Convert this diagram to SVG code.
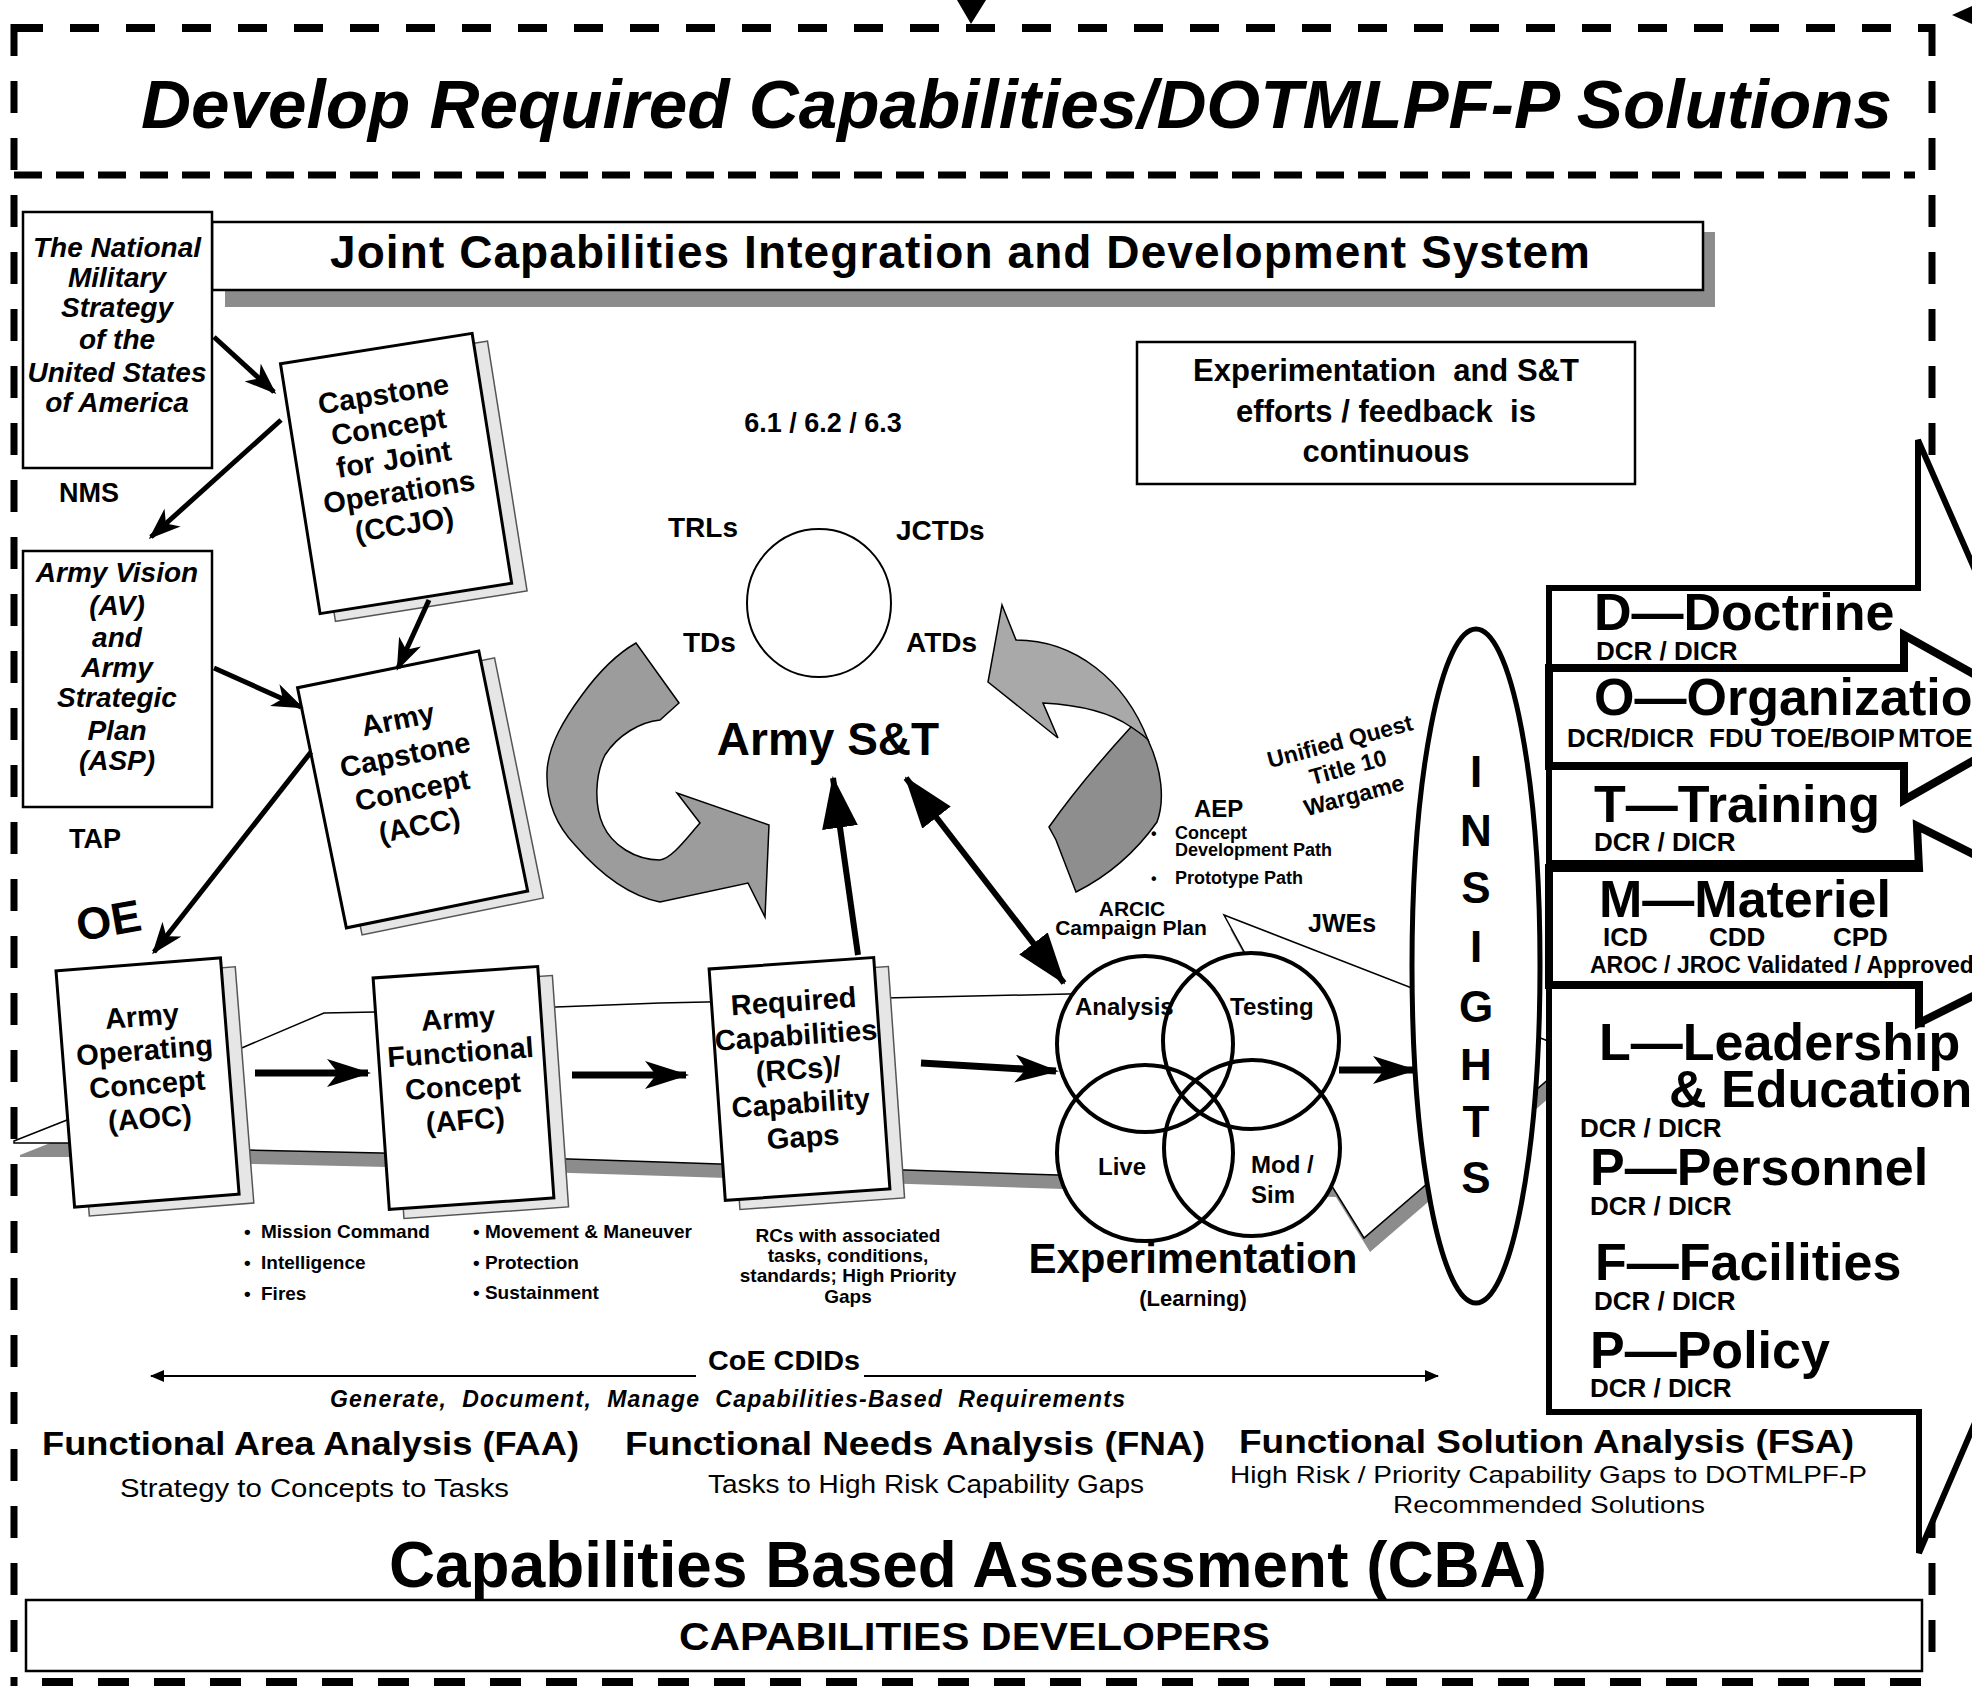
<svg xmlns="http://www.w3.org/2000/svg" width="1972" height="1690" viewBox="0 0 1972 1690">
<defs>
<style>
text { font-family: "Liberation Sans", Arial, Helvetica, sans-serif; fill: #000; }
.b { font-weight: bold; }
.i { font-style: italic; }
.c { text-anchor: middle; }
.box { fill: #fff; stroke: #000; stroke-width: 2.5; }
.bk { fill: #e6e6e6; stroke: #555; stroke-width: 1.5; }
.bf { fill: #fff; stroke: #000; stroke-width: 3; }
.dash { fill: none; stroke: #000; }
.ln { fill: none; stroke: #000; stroke-width: 5; }
.thk { fill: none; stroke: #000; stroke-width: 7; }
.row { fill: #fff; stroke: #000; stroke-width: 8; stroke-linejoin: miter; }
.circ { fill: none; stroke: #000; stroke-width: 4; }
.big { font-size: 52px; font-weight: bold; }
.dcr { font-size: 26px; font-weight: bold; }
.bookt { font-size: 29px; font-weight: bold; text-anchor: middle; }
.bul { font-size: 19px; font-weight: bold; }
</style>
<marker id="st" viewBox="0 0 32 24" refX="29" refY="12" markerWidth="32" markerHeight="24" markerUnits="userSpaceOnUse" orient="auto"><path d="M0,0 L32,12 L0,24 L9,12 Z"/></marker>
<marker id="stL" viewBox="0 0 44 28" refX="41" refY="14" markerWidth="44" markerHeight="28" markerUnits="userSpaceOnUse" orient="auto"><path d="M0,0 L44,14 L0,28 L11,14 Z"/></marker>
<marker id="tri" viewBox="0 0 52 36" refX="50" refY="18" markerWidth="52" markerHeight="36" markerUnits="userSpaceOnUse" orient="auto-start-reverse"><path d="M0,0 L52,18 L0,36 Z"/></marker>
<marker id="sm" viewBox="0 0 14 12" refX="13" refY="6" markerWidth="14" markerHeight="12" markerUnits="userSpaceOnUse" orient="auto-start-reverse"><path d="M0,0 L14,6 L0,12 Z"/></marker>
</defs>
<rect width="1972" height="1690" fill="#fff"/>

<g id="frame">
<line class="dash" x1="14" y1="28" x2="1932" y2="28" stroke-width="8" stroke-dasharray="29 27"/>
<line class="dash" x1="14" y1="175" x2="1915" y2="175" stroke-width="7" stroke-dasharray="28 14"/>
<line class="dash" x1="14" y1="24" x2="14" y2="1686" stroke-width="7" stroke-dasharray="32 25"/>
<line class="dash" x1="1932" y1="24" x2="1932" y2="1667" stroke-width="7" stroke-dasharray="32 25"/>
<line class="dash" x1="42" y1="1682" x2="1922" y2="1682" stroke-width="8" stroke-dasharray="31 25"/>
<path d="M957,0 L986,0 L971,24 Z" fill="#000"/>
<path d="M1952,15 L1972,6 L1972,24 Z" fill="#000"/>
</g>

<g id="title">
<text class="b i" x="141" y="128" font-size="69" textLength="1751" lengthAdjust="spacingAndGlyphs">Develop Required Capabilities/DOTMLPF-P Solutions</text>
</g>

<g id="jcids">
<rect x="225" y="232" width="1490" height="75" fill="#8c8c8c"/>
<rect class="box" x="212" y="222" width="1491" height="68"/>
<text class="b" x="330" y="268" font-size="46" textLength="1260" lengthAdjust="spacing">Joint Capabilities Integration and Development System</text>
</g>

<g id="nms">
<rect class="box" x="23" y="212" width="189" height="256" stroke-width="2"/>
<g class="b i c" font-size="28">
<text x="117" y="257">The National</text>
<text x="117" y="287">Military</text>
<text x="117" y="317">Strategy</text>
<text x="117" y="349">of the</text>
<text x="117" y="382">United States</text>
<text x="117" y="412">of America</text>
</g>
<text class="b" x="59" y="502" font-size="27">NMS</text>
</g>

<g id="army-vision">
<rect class="box" x="23" y="551" width="189" height="256" stroke-width="2"/>
<g class="b i c" font-size="28">
<text x="117" y="582">Army Vision</text>
<text x="117" y="615">(AV)</text>
<text x="117" y="647">and</text>
<text x="117" y="677">Army</text>
<text x="117" y="707">Strategic</text>
<text x="117" y="740">Plan</text>
<text x="117" y="770">(ASP)</text>
</g>
<text class="b" x="69" y="848" font-size="27">TAP</text>
<text class="b" x="76" y="936" font-size="45" transform="rotate(-10 108 920)">OE</text>
</g>

<g id="exp-box">
<rect class="box" x="1137" y="342" width="498" height="142" stroke-width="2"/>
<g class="b c" font-size="31">
<text x="1386" y="381" xml:space="preserve">Experimentation  and S&amp;T</text>
<text x="1386" y="422" xml:space="preserve">efforts / feedback  is</text>
<text x="1386" y="462">continuous</text>
</g>
</g>

<g id="flat-arrow">
<polygon transform="translate(6,14)" fill="#8c8c8c" points="14,1141 67,1120 244,1047 324,1013 375,1012 556,1007 660,1003 1068,994 1265,990 1224,915 1579,1053 1364,1238 1330,1183 1058,1175 660,1162 381,1153 248,1150 67,1143 14,1143"/>
<polygon fill="#fff" stroke="#000" stroke-width="1.5" points="14,1141 67,1120 244,1047 324,1013 375,1012 556,1007 660,1003 1068,994 1265,990 1224,915 1579,1053 1364,1238 1330,1183 1058,1175 660,1162 381,1153 248,1150 67,1143 14,1143"/>
</g>

<g id="cycle-arrows" stroke="#000" stroke-width="1.5">
<path fill="#9c9c9c" d="M636,643 C615,655 598,673 582,695 C565,718 548,745 547,772 C546,800 556,825 575,845 C595,868 625,895 660,902 L748,883 L765,917 L769,825 L677,793 L700,823 C685,840 672,858 660,860 C635,860 612,845 603,825 C594,805 595,775 605,755 C618,735 640,722 660,720 L679,703 Z"/>
<path fill="#a9a9a9" d="M1002,605 L1016,640 C1075,640 1125,680 1148,740 L1131,727 C1110,712 1080,705 1043,703 L1058,738 L988,682 Z"/>
<path fill="#8e8e8e" d="M1131,727 C1140,733 1146,737 1148,740 C1162,770 1165,800 1157,822 C1130,860 1100,880 1076,892 L1056,840 L1049,827 C1075,790 1110,750 1131,727 Z"/>
</g>

<g id="army-st">
<ellipse cx="819" cy="603" rx="72" ry="74" fill="none" stroke="#000" stroke-width="2"/>
<text class="b c" x="823" y="432" font-size="27">6.1 / 6.2 / 6.3</text>
<text class="b" x="668" y="537" font-size="28">TRLs</text>
<text class="b" x="896" y="540" font-size="28">JCTDs</text>
<text class="b" x="683" y="652" font-size="28">TDs</text>
<text class="b" x="906" y="652" font-size="28">ATDs</text>
<text class="b c" x="828" y="755" font-size="46">Army S&amp;T</text>
</g>

<g id="book-ccjo" transform="translate(396,473) rotate(-9)">
<rect class="bk" x="-83" y="-116" width="194" height="253"/>
<rect class="bf" x="-97" y="-126" width="194" height="253"/>
<text class="bookt" y="-70">Capstone</text>
<text class="bookt" y="-37">Concept</text>
<text class="bookt" y="-4">for Joint</text>
<text class="bookt" y="29">Operations</text>
<text class="bookt" y="62">(CCJO)</text>
</g>

<g id="book-acc" transform="translate(412,789) rotate(-11.5)">
<rect class="bk" x="-78" y="-112" width="185" height="245"/>
<rect class="bf" x="-92" y="-122" width="185" height="245"/>
<text class="bookt" y="-61">Army</text>
<text class="bookt" y="-25">Capstone</text>
<text class="bookt" y="11">Concept</text>
<text class="bookt" y="47">(ACC)</text>
</g>

<g id="book-aoc" transform="translate(147,1082) rotate(-4.5)">
<rect class="bk" x="-68" y="-108" width="165" height="237"/>
<rect class="bf" x="-82" y="-118" width="165" height="237"/>
<text class="bookt" y="-56">Army</text>
<text class="bookt" y="-22">Operating</text>
<text class="bookt" y="12">Concept</text>
<text class="bookt" y="46">(AOC)</text>
</g>

<g id="book-afc" transform="translate(463,1088) rotate(-4)">
<rect class="bk" x="-68" y="-106" width="165" height="232"/>
<rect class="bf" x="-82" y="-116" width="165" height="232"/>
<text class="bookt" y="-60">Army</text>
<text class="bookt" y="-26">Functional</text>
<text class="bookt" y="8">Concept</text>
<text class="bookt" y="42">(AFC)</text>
</g>

<g id="book-rc" transform="translate(799,1079) rotate(-4)">
<rect class="bk" x="-68" y="-106" width="165" height="232"/>
<rect class="bf" x="-82" y="-116" width="165" height="232"/>
<text class="bookt" y="-68">Required</text>
<text class="bookt" y="-34">Capabilities</text>
<text class="bookt" y="0">(RCs)/</text>
<text class="bookt" y="34">Capability</text>
<text class="bookt" y="68">Gaps</text>
</g>

<g id="function-lists">
<text class="bul" x="244" y="1238">•</text><text class="bul" x="261" y="1238">Mission Command</text>
<text class="bul" x="244" y="1269">•</text><text class="bul" x="261" y="1269">Intelligence</text>
<text class="bul" x="244" y="1300">•</text><text class="bul" x="261" y="1300">Fires</text>
<text class="bul" x="473" y="1238">• Movement &amp; Maneuver</text>
<text class="bul" x="473" y="1269">• Protection</text>
<text class="bul" x="473" y="1299">• Sustainment</text>
<g class="bul c">
<text x="848" y="1242">RCs with associated</text>
<text x="848" y="1262">tasks, conditions,</text>
<text x="848" y="1282">standards; High Priority</text>
<text x="848" y="1303">Gaps</text>
</g>
</g>

<g id="connectors">
<line class="ln" x1="214" y1="337" x2="274" y2="392" marker-end="url(#st)"/>
<line class="ln" x1="281" y1="420" x2="151" y2="537" marker-end="url(#st)"/>
<line class="ln" x1="214" y1="668" x2="301" y2="707" marker-end="url(#st)"/>
<line class="ln" x1="429" y1="600" x2="398" y2="668" marker-end="url(#st)"/>
<line class="ln" x1="311" y1="752" x2="154" y2="952" marker-end="url(#st)"/>
<line class="thk" x1="255" y1="1073" x2="368" y2="1073" marker-end="url(#stL)"/>
<line class="thk" x1="572" y1="1075" x2="686" y2="1075" marker-end="url(#stL)"/>
<line class="thk" x1="921" y1="1063" x2="1056" y2="1071" marker-end="url(#stL)"/>
<line class="thk" x1="1339" y1="1070" x2="1414" y2="1070" marker-end="url(#stL)"/>
<line x1="858" y1="955" x2="833" y2="778" stroke="#000" stroke-width="6" marker-end="url(#tri)"/>
<line x1="906" y1="778" x2="1064" y2="983" stroke="#000" stroke-width="6" marker-start="url(#tri)" marker-end="url(#tri)"/>
<line x1="151" y1="1376" x2="696" y2="1376" stroke="#000" stroke-width="2" marker-start="url(#sm)"/>
<line x1="864" y1="1376" x2="1438" y2="1376" stroke="#000" stroke-width="2" marker-end="url(#sm)"/>
</g>

<g id="experimentation">
<circle cx="1145" cy="1044" r="88" fill="#fff"/>
<circle cx="1251" cy="1041" r="88" fill="#fff"/>
<circle cx="1145" cy="1153" r="88" fill="#fff"/>
<circle cx="1252" cy="1148" r="88" fill="#fff"/>
<circle class="circ" cx="1145" cy="1044" r="88"/>
<circle class="circ" cx="1251" cy="1041" r="88"/>
<circle class="circ" cx="1145" cy="1153" r="88"/>
<circle class="circ" cx="1252" cy="1148" r="88"/>
<text class="b" x="1075" y="1015" font-size="24">Analysis</text>
<text class="b" x="1230" y="1015" font-size="24">Testing</text>
<text class="b" x="1098" y="1175" font-size="24">Live</text>
<text class="b" x="1251" y="1173" font-size="24">Mod /</text>
<text class="b" x="1251" y="1203" font-size="24">Sim</text>
<text class="b c" x="1193" y="1273" font-size="42">Experimentation</text>
<text class="b c" x="1193" y="1306" font-size="22">(Learning)</text>
</g>

<g id="aep">
<text class="b c" font-size="23" transform="translate(1342,749) rotate(-15)">Unified Quest</text>
<text class="b c" font-size="23" transform="translate(1350,775) rotate(-15)">Title 10</text>
<text class="b c" font-size="23" transform="translate(1356,803) rotate(-15)">Wargame</text>
<text class="b" x="1194" y="817" font-size="24">AEP</text>
<text class="b" x="1151" y="839" font-size="16">•</text>
<text class="b" x="1175" y="839" font-size="18">Concept</text>
<text class="b" x="1175" y="856" font-size="18">Development Path</text>
<text class="b" x="1151" y="884" font-size="16">•</text>
<text class="b" x="1175" y="884" font-size="18">Prototype Path</text>
<text class="b c" x="1132" y="916" font-size="21">ARCIC</text>
<text class="b c" x="1131" y="935" font-size="21">Campaign Plan</text>
<text class="b" x="1308" y="932" font-size="25">JWEs</text>
</g>

<g id="insights">
<ellipse cx="1476" cy="966" rx="64" ry="337" fill="#fff" stroke="#000" stroke-width="5"/>
<g class="b c" font-size="44">
<text x="1476" y="787">I</text>
<text x="1476" y="846">N</text>
<text x="1476" y="903">S</text>
<text x="1476" y="962">I</text>
<text x="1476" y="1022">G</text>
<text x="1476" y="1080">H</text>
<text x="1476" y="1137">T</text>
<text x="1476" y="1193">S</text>
</g>
</g>

<g id="dotmlpf">
<polygon fill="#fff" stroke="#000" stroke-width="6" points="1918,440 2160,992 1919,1553 1919,1412 1549,1412 1549,588 1918,588"/>
<polygon class="row" points="1549,668 1904,668 1904,635 2050,717 1904,800 1904,766 1549,766"/>
<line x1="1549" y1="864" x2="1921" y2="864" stroke="#000" stroke-width="8"/>
<polygon class="row" points="1549,868 1919,868 1917,826 2115,925 1919,1023 1919,985 1549,985"/>
<text class="big" x="1594" y="630">D—Doctrine</text>
<text class="dcr" x="1596" y="660">DCR / DICR</text>
<text class="big" x="1594" y="715">O—Organization</text>
<text class="dcr" x="1567" y="747">DCR/DICR</text>
<text class="dcr" x="1709" y="747">FDU</text>
<text class="dcr" x="1771" y="747">TOE/BOIP</text>
<text class="dcr" x="1898" y="747">MTOE</text>
<text class="big" x="1594" y="822">T—Training</text>
<text class="dcr" x="1594" y="851">DCR / DICR</text>
<text class="big" x="1599" y="917">M—Materiel</text>
<text class="dcr" x="1603" y="946">ICD</text>
<text class="dcr" x="1709" y="946">CDD</text>
<text class="dcr" x="1833" y="946">CPD</text>
<text class="b" x="1590" y="973" font-size="23">AROC / JROC Validated / Approved</text>
<text class="big" x="1599" y="1060">L—Leadership</text>
<text class="big" x="1669" y="1107">&amp; Education</text>
<text class="dcr" x="1580" y="1137">DCR / DICR</text>
<text class="big" x="1590" y="1185">P—Personnel</text>
<text class="dcr" x="1590" y="1215">DCR / DICR</text>
<text class="big" x="1595" y="1280">F—Facilities</text>
<text class="dcr" x="1594" y="1310">DCR / DICR</text>
<text class="big" x="1590" y="1368">P—Policy</text>
<text class="dcr" x="1590" y="1397">DCR / DICR</text>
</g>

<g id="cba">
<text class="b" x="708" y="1370" font-size="27" textLength="152" lengthAdjust="spacingAndGlyphs">CoE CDIDs</text>
<text class="b i" x="330" y="1407" font-size="23" textLength="795" lengthAdjust="spacing" xml:space="preserve">Generate,  Document,  Manage  Capabilities-Based  Requirements</text>
<text class="b" x="42" y="1455" font-size="34" textLength="537" lengthAdjust="spacingAndGlyphs">Functional Area Analysis (FAA)</text>
<text x="120" y="1497" font-size="26" textLength="389" lengthAdjust="spacingAndGlyphs">Strategy to Concepts to Tasks</text>
<text class="b" x="625" y="1455" font-size="34" textLength="580" lengthAdjust="spacingAndGlyphs">Functional Needs Analysis (FNA)</text>
<text x="708" y="1493" font-size="26" textLength="436" lengthAdjust="spacingAndGlyphs">Tasks to High Risk Capability Gaps</text>
<text class="b" x="1239" y="1453" font-size="34" textLength="615" lengthAdjust="spacingAndGlyphs">Functional Solution Analysis (FSA)</text>
<text x="1230" y="1483" font-size="24" textLength="637" lengthAdjust="spacingAndGlyphs">High Risk / Priority Capability Gaps to DOTMLPF-P</text>
<text x="1393" y="1513" font-size="24" textLength="312" lengthAdjust="spacingAndGlyphs">Recommended Solutions</text>
<text class="b" x="389" y="1587" font-size="65" textLength="1158" lengthAdjust="spacingAndGlyphs">Capabilities Based Assessment (CBA)</text>
</g>

<g id="cap-dev">
<rect x="26" y="1600" width="1896" height="71" fill="#fff" stroke="#000" stroke-width="2.5"/>
<text class="b" x="679" y="1650" font-size="38" textLength="591" lengthAdjust="spacingAndGlyphs">CAPABILITIES DEVELOPERS</text>
</g>
</svg>
